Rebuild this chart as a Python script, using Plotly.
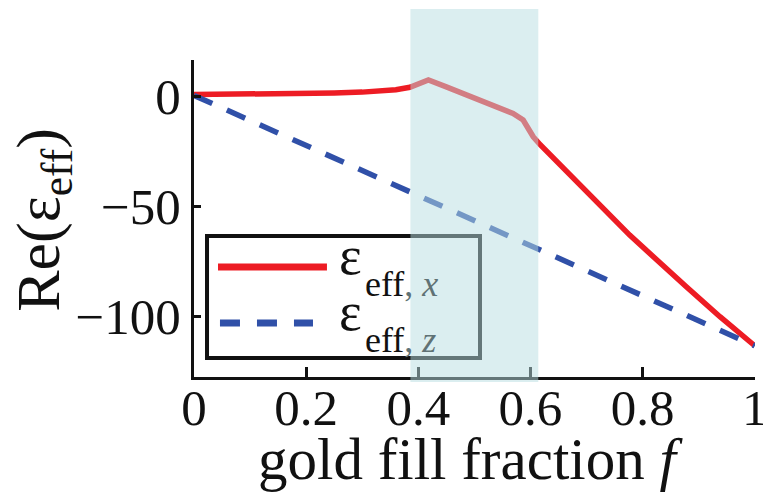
import plotly.graph_objects as go

# Gold fill fraction and real part of the effective permittivity
f_x = [0.0, 0.10, 0.20, 0.25, 0.30, 0.33, 0.36, 0.385, 0.418, 0.450, 0.480, 0.510,
       0.540, 0.569, 0.587, 0.596, 0.605, 0.617, 0.730, 0.777, 0.878, 0.938, 1.0]
eps_x = [0.7, 0.8, 1.1, 1.4, 1.8, 2.2, 2.9, 4.0, 7.3, 4.2, 1.2, -1.5,
         -4.5, -7.9, -10.9, -14.7, -18.5, -22.0, -51.0, -63.2, -86.7, -100.3, -113.5]

f_z = [0.0, 0.25, 0.50, 0.75, 1.0]
eps_z = [0.3, -28.1, -56.6, -85.0, -113.5]

# shaded interval of fill fractions
band_f = [0.386, 0.614]

x_ticks = [0, 0.2, 0.4, 0.6, 0.8, 1]
x_labels = ["0", "0.2", "0.4", "0.6", "0.8", "1"]
y_ticks = [-100, -50, 0]
y_labels = ["\u2212100", "\u221250", "0"]
x_range = [0, 1.0005]
y_range = [-127.7, 16.4]

FONT = "Liberation Serif, Times New Roman, serif"
RED = "#ED1C24"
BLUE = "#3050A8"
INK = "#111111"
BAND = "rgb(183,221,225)"
BAND_INK = "rgb(96,114,117)"   # ink seen through the translucent band

fig = go.Figure()
fig.add_trace(go.Scatter(x=f_x, y=eps_x, mode="lines",
                         line=dict(color=RED, width=5.5), showlegend=False))
fig.add_trace(go.Scatter(x=f_z, y=eps_z, mode="lines",
                         line=dict(color=BLUE, width=5.5, dash="20px,16px"),
                         showlegend=False))

axis_common = dict(showgrid=False, zeroline=False, showline=True,
                   linecolor=INK, linewidth=3, ticks="inside",
                   tickcolor=INK, tickwidth=2.5, mirror=False,
                   automargin=False, ticklabeloverflow="allow",
                   tickfont=dict(family=FONT, size=51, color=INK))
fig.update_xaxes(range=x_range, tickvals=x_ticks, ticktext=x_labels,
                 ticklen=10, ticklabelstandoff=-16, **axis_common)
fig.update_yaxes(range=y_range, tickvals=y_ticks, ticktext=y_labels,
                 ticklen=7, **axis_common)

shapes = []
# legend frame and keys
shapes.append(dict(type="rect", xref="paper", yref="paper",
                   x0=0.0232, x1=0.5098, y0=0.0599, y1=0.4448,
                   line=dict(color=INK, width=4), fillcolor="white",
                   layer="above"))
shapes.append(dict(type="line", xref="paper", yref="paper",
                   x0=0.0428, x1=0.237, y0=0.347, y1=0.347,
                   line=dict(color=RED, width=7), layer="above"))
shapes.append(dict(type="line", xref="paper", yref="paper",
                   x0=0.0463, x1=0.2121, y0=0.170, y1=0.170,
                   line=dict(color=BLUE, width=7, dash="20px,17px"),
                   layer="above"))
# translucent band over the curves
shapes.append(dict(type="rect", xref="x", yref="paper",
                   x0=band_f[0], x1=band_f[1], y0=-0.0158, y1=1.161,
                   fillcolor=BAND, opacity=0.5, line=dict(width=0),
                   layer="above"))

annotations = []
legend_rows = [("x", 0.382, 0.292), ("z", 0.2058, 0.1153)]
for comp, y_eps, y_sub in legend_rows:
    annotations.append(dict(xref="paper", yref="paper", x=0.2549, y=y_eps,
                            xanchor="left", yanchor="middle", showarrow=False,
                            text="\u03b5", font=dict(family=FONT, size=54, color=INK)))
    annotations.append(dict(xref="paper", yref="paper", x=0.3012, y=y_sub,
                            xanchor="left", yanchor="middle", showarrow=False,
                            text=f"eff<span style='color:{BAND_INK}'>, <i>{comp}</i></span>",
                            font=dict(family=FONT, size=36, color=INK)))

# axis titles
annotations.append(dict(xref="paper", yref="paper", x=0.492, y=-0.258,
                        xanchor="center", yanchor="middle", showarrow=False,
                        text="gold fill fraction <i>f</i>",
                        font=dict(family=FONT, size=59, color=INK)))
annotations.append(dict(xref="paper", yref="paper", x=-0.2715, y=0.495,
                        xanchor="center", yanchor="middle", showarrow=False,
                        textangle=-90,
                        text="Re(\u03b5<sub>eff</sub>)",
                        font=dict(family=FONT, size=62, color=INK)))

fig.update_layout(width=763, height=492,
                  margin=dict(l=194, r=8, t=60, b=115),
                  paper_bgcolor="white", plot_bgcolor="white",
                  shapes=shapes, annotations=annotations,
                  showlegend=False)

fig.write_html("out.html")
